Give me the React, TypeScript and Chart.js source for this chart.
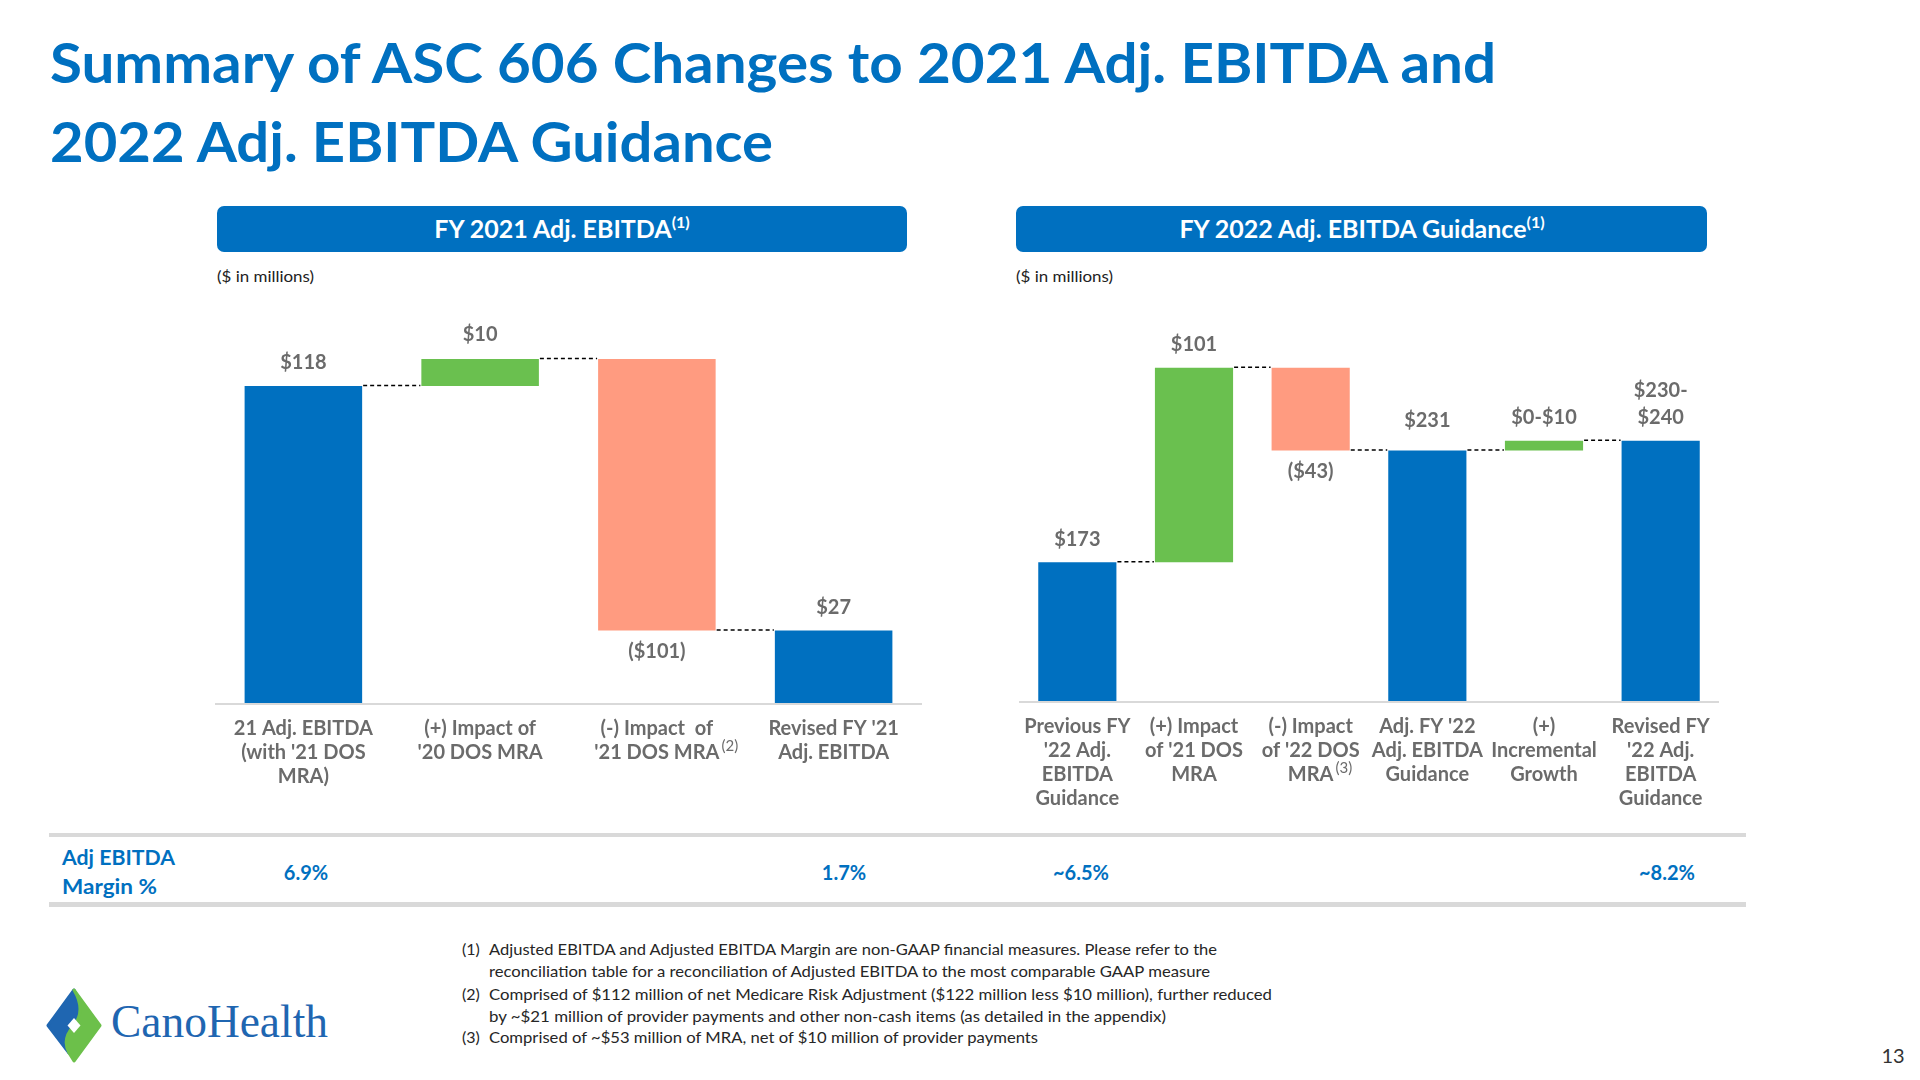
import React, { useEffect, useRef } from "react";
import { Chart, registerables } from "chart.js";

Chart.register(...registerables);

const BLUE = "#0070C0";
const GREEN = "#6AC04F";
const SALMON = "#FF9B80";
const GRAY_TEXT = "#6B6B6B";
const RULE = "#D9D9D9";

// ---------- FY 2021 Adj. EBITDA ----------
const categories21: string[][] = [
  ["21 Adj. EBITDA", "(with '21 DOS", "MRA)"],
  ["(+) Impact of", "'20 DOS MRA"],
  ["(-) Impact  of", "'21 DOS MRA"],
  ["Revised FY '21", "Adj. EBITDA"],
];
const notes21 = ["", "", "(2)", ""];
const steps21 = [118, 10, -101, 27];
const kinds21 = ["total", "delta", "delta", "total"];
const valueLabels21: string[][] = [["$118"], ["$10"], ["($101)"], ["$27"]];

// ---------- FY 2022 Adj. EBITDA Guidance ----------
const categories22: string[][] = [
  ["Previous FY", "'22 Adj.", "EBITDA", "Guidance"],
  ["(+) Impact", "of '21 DOS", "MRA"],
  ["(-) Impact", "of '22 DOS", "MRA"],
  ["Adj. FY '22", "Adj. EBITDA", "Guidance"],
  ["(+)", "Incremental", "Growth"],
  ["Revised FY", "'22 Adj.", "EBITDA", "Guidance"],
];
const notes22 = ["", "", "(3)", "", "", ""];
const steps22 = [173, 101, -43, 231, 5, 236];
const kinds22 = ["total", "delta", "delta", "total", "delta", "total"];
const valueLabels22: string[][] = [["$173"], ["$101"], ["($43)"], ["$231"], ["$0-$10"], ["$230-", "$240"]];

// ---------- Margin row ----------
const marginLabels = ["6.9%", "1.7%", "~6.5%", "~8.2%"];

function buildWaterfall(steps: number[], kinds: string[]) {
  let run = 0;
  const ranges: number[][] = [];
  const colors: string[] = [];
  const levels: number[] = [];
  steps.forEach((v, i) => {
    if (kinds[i] === "total") {
      ranges.push([0, v]);
      colors.push(BLUE);
      run = v;
    } else {
      const next = run + v;
      ranges.push([Math.min(run, next), Math.max(run, next)]);
      colors.push(v >= 0 ? GREEN : SALMON);
      run = next;
    }
    levels.push(run);
  });
  return { ranges, colors, levels };
}

const waterfallDecor = {
  id: "waterfallDecor",
  afterDraw(chart: any, _args: any, opts: any) {
    const { ctx, chartArea, scales } = chart;
    const meta = chart.getDatasetMeta(0);
    const ys = scales.y;
    const xs = scales.x;
    ctx.save();
    // axis line
    ctx.strokeStyle = RULE;
    ctx.lineWidth = 2;
    ctx.setLineDash([]);
    ctx.beginPath();
    ctx.moveTo(chartArea.left, chartArea.bottom + 1);
    ctx.lineTo(chartArea.right, chartArea.bottom + 1);
    ctx.stroke();
    // dashed connectors
    ctx.strokeStyle = "#000";
    ctx.lineWidth = 1.5;
    ctx.setLineDash([4, 3]);
    for (let i = 0; i < meta.data.length - 1; i++) {
      const a = meta.data[i];
      const b = meta.data[i + 1];
      const py = ys.getPixelForValue(opts.levels[i]) - 0.5;
      ctx.beginPath();
      ctx.moveTo(a.x + a.width / 2 + 1, py);
      ctx.lineTo(b.x - b.width / 2 - 1, py);
      ctx.stroke();
    }
    ctx.setLineDash([]);
    // value labels
    ctx.fillStyle = GRAY_TEXT;
    ctx.textAlign = "center";
    ctx.textBaseline = "middle";
    ctx.font = "bold 20px Lato";
    meta.data.forEach((el: any, i: number) => {
      const top = Math.min(el.y, el.base);
      const bottom = Math.max(el.y, el.base);
      const lines: string[] = opts.valueLabels[i];
      const extra = (opts.labelLift && opts.labelLift[i]) || 0;
      if (opts.steps[i] < 0) {
        lines.forEach((t, k) => ctx.fillText(t, el.x, bottom + 21 + k * 27));
      } else {
        lines.forEach((t, k) =>
          ctx.fillText(t, el.x, top - 23 - extra - (lines.length - 1 - k) * 27)
        );
      }
    });
    // category labels
    const base = chartArea.bottom + 26;
    opts.categories.forEach((lines: string[], i: number) => {
      const x = xs.getPixelForValue(i);
      ctx.font = "bold 20px Lato";
      ctx.textAlign = "center";
      lines.forEach((t, k) => ctx.fillText(t, x, base + k * 24));
      if (opts.notes[i]) {
        const last = lines[lines.length - 1];
        const w = ctx.measureText(last).width;
        ctx.font = "15px Lato";
        ctx.textAlign = "left";
        ctx.fillText(opts.notes[i], x + w / 2 + 2, base + (lines.length - 1) * 24 - 7);
      }
    });
    ctx.restore();
  },
};

type WFProps = {
  left: number;
  top: number;
  width: number;
  height: number;
  padTop: number;
  axisHeight: number;
  yMin: number;
  yMax: number;
  barPct: number;
  categories: string[][];
  notes: string[];
  steps: number[];
  kinds: string[];
  valueLabels: string[][];
  labelLift?: number[];
};

function Waterfall(p: WFProps) {
  const ref = useRef<HTMLCanvasElement>(null);
  useEffect(() => {
    const wf = buildWaterfall(p.steps, p.kinds);
    const chart = new Chart(ref.current as HTMLCanvasElement, {
      type: "bar",
      data: {
        labels: p.categories.map((c) => c.join(" ")),
        datasets: [
          {
            data: wf.ranges as any,
            backgroundColor: wf.colors,
            borderWidth: 0,
            barPercentage: p.barPct,
            categoryPercentage: 1,
            clip: 0 as any,
          },
        ],
      },
      options: {
        animation: false,
        responsive: false,
        maintainAspectRatio: false,
        layout: { padding: { top: p.padTop, left: 0, right: 0, bottom: 0 } },
        plugins: {
          legend: { display: false },
          tooltip: { enabled: false },
          waterfallDecor: {
            levels: wf.levels,
            steps: p.steps,
            valueLabels: p.valueLabels,
            categories: p.categories,
            notes: p.notes,
            labelLift: p.labelLift,
          },
        } as any,
        scales: {
          x: {
            display: true,
            grid: { display: false, drawTicks: false },
            border: { display: false },
            ticks: { display: false },
            afterFit: (s: any) => {
              s.height = p.axisHeight;
            },
          },
          y: { display: false, min: p.yMin, max: p.yMax },
        },
      },
      plugins: [waterfallDecor as any],
    });
    return () => chart.destroy();
  }, []);
  return (
    <canvas
      ref={ref}
      width={p.width}
      height={p.height}
      style={{ position: "absolute", left: p.left, top: p.top, width: p.width, height: p.height }}
    />
  );
}

const FONT = "Lato";

export default function App() {
  const footX = 462;
  const footTextX = 489;
  return (
    <div
      style={{
        position: "absolute",
        left: 0,
        top: 0,
        width: 1920,
        height: 1080,
        background: "#fff",
        overflow: "hidden",
      }}
    >
      <svg
        width={1920}
        height={1080}
        style={{ position: "absolute", left: 0, top: 0 }}
        fontFamily={FONT}
      >
        {/* Title */}
        <text x={50} y={83} fontSize={56} fontWeight={700} fill={BLUE} textLength={1446} lengthAdjust="spacingAndGlyphs">
          Summary of ASC 606 Changes to 2021 Adj. EBITDA and
        </text>
        <text x={50} y={162} fontSize={56} fontWeight={700} fill={BLUE} textLength={723} lengthAdjust="spacingAndGlyphs">
          2022 Adj. EBITDA Guidance
        </text>

        {/* Header bars */}
        <rect x={217} y={206} width={690} height={46} rx={7} fill={BLUE} />
        <text x={562} y={238} fontSize={25} fontWeight={700} fill="#fff" textAnchor="middle">
          FY 2021 Adj. EBITDA
          <tspan fontSize={16} dy={-10}>(1)</tspan>
        </text>
        <rect x={1016} y={206} width={691} height={46} rx={7} fill={BLUE} />
        <text x={1362} y={238} fontSize={25} fontWeight={700} fill="#fff" textAnchor="middle">
          FY 2022 Adj. EBITDA Guidance
          <tspan fontSize={16} dy={-10}>(1)</tspan>
        </text>

        <text x={217} y={282} fontSize={16} fill="#222" textLength={97} lengthAdjust="spacingAndGlyphs">
          ($ in millions)
        </text>
        <text x={1016} y={282} fontSize={16} fill="#222" textLength={97} lengthAdjust="spacingAndGlyphs">
          ($ in millions)
        </text>

        {/* Margin row */}
        <rect x={49} y={833} width={1697} height={4} fill={RULE} />
        <rect x={49} y={902} width={1697} height={5} fill={RULE} />
        <text x={62} y={865} fontSize={20} fontWeight={700} fill={BLUE} textLength={113} lengthAdjust="spacingAndGlyphs">
          Adj EBITDA
        </text>
        <text x={62} y={894} fontSize={20} fontWeight={700} fill={BLUE} textLength={95} lengthAdjust="spacingAndGlyphs">
          Margin %
        </text>
        {marginLabels.map((m, i) => (
          <text
            key={i}
            x={[306, 844, 1081, 1667][i]}
            y={880}
            fontSize={20}
            fontWeight={700}
            fill={BLUE}
            textAnchor="middle"
          >
            {m}
          </text>
        ))}

        {/* Footnotes */}
        <g fontSize={16} fill="#262626">
          <text x={footX} y={955}>(1)</text>
          <text x={footTextX} y={955} textLength={728} lengthAdjust="spacingAndGlyphs">
            Adjusted EBITDA and Adjusted EBITDA Margin are non-GAAP financial measures. Please refer to the
          </text>
          <text x={footTextX} y={977} textLength={721} lengthAdjust="spacingAndGlyphs">
            reconciliation table for a reconciliation of Adjusted EBITDA to the most comparable GAAP measure
          </text>
          <text x={footX} y={1000}>(2)</text>
          <text x={footTextX} y={1000} textLength={783} lengthAdjust="spacingAndGlyphs">
            Comprised of $112 million of net Medicare Risk Adjustment ($122 million less $10 million), further reduced
          </text>
          <text x={footTextX} y={1022} textLength={677} lengthAdjust="spacingAndGlyphs">
            by ~$21 million of provider payments and other non-cash items (as detailed in the appendix)
          </text>
          <text x={footX} y={1043}>(3)</text>
          <text x={footTextX} y={1043} textLength={549} lengthAdjust="spacingAndGlyphs">
            Comprised of ~$53 million of MRA, net of $10 million of provider payments
          </text>
        </g>

        {/* Page number */}
        <text x={1893} y={1063} fontSize={20} fill="#333" textAnchor="middle">
          13
        </text>

        {/* Logo */}
        <g transform="translate(40,980)">
          <path
            d="M34 10 L8 45.5 L29 73 C 23 62, 28 52, 34 45.5 C 40 38, 44 27, 34 10 Z"
            fill="#1F66B1"
            stroke="#1F66B1"
            strokeWidth={3}
            strokeLinejoin="round"
          />
          <path
            d="M34 10 C 44 27, 40 38, 34 45.5 C 28 52, 23 62, 29 73 L34 81 L60 45.5 Z"
            fill="#6CC04A"
            stroke="#6CC04A"
            strokeWidth={3}
            strokeLinejoin="round"
          />
          <path d="M34 38 L40.5 45.5 L34 53 L27.5 45.5 Z" fill="#fff" />
          <text
            x={71}
            y={57}
            fontFamily="Liberation Serif, serif"
            fontSize={46}
            fill="#1F66B1"
            textLength={217}
            lengthAdjust="spacingAndGlyphs"
          >
            CanoHealth
          </text>
        </g>
      </svg>

      <Waterfall
        left={215}
        top={260}
        width={707}
        height={560}
        padTop={40}
        axisHeight={117}
        yMin={0}
        yMax={150}
        barPct={0.665}
        categories={categories21}
        notes={notes21}
        steps={steps21}
        kinds={kinds21}
        valueLabels={valueLabels21}
        labelLift={[0, 2, 0, 0]}
      />
      <Waterfall
        left={1019}
        top={260}
        width={700}
        height={560}
        padTop={55.6}
        axisHeight={119}
        yMin={101}
        yMax={301}
        barPct={0.67}
        categories={categories22}
        notes={notes22}
        steps={steps22}
        kinds={kinds22}
        valueLabels={valueLabels22}
        labelLift={[0, 0, 0, 7, 0, 0]}
      />
    </div>
  );
}
